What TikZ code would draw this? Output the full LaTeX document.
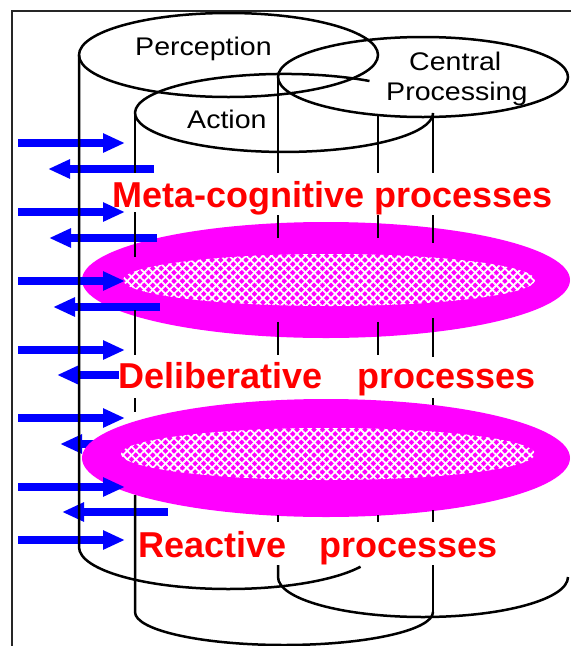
\documentclass[tikz,border=0pt]{standalone}
\usepackage{fontspec}
\setmainfont{Liberation Sans}
\usepackage{graphicx}
\usetikzlibrary{arrows.meta,patterns.meta}
\definecolor{mag}{RGB}{255,0,255}
\definecolor{fullblue}{RGB}{0,0,255}
\definecolor{fullred}{RGB}{255,0,0}
\begin{document}
\begin{tikzpicture}[x=1pt,y=-1pt,
  edge/.style={line width=2.5pt, black, line cap=butt},
  frameline/.style={line width=1.2pt, black!85},
  barrow/.style={line width=8pt, fullblue, -{Triangle[length=22pt 0 0,width=18pt 0 0]}},
  ringfill/.style={fill=mag},
  weave1/.style={pattern={Lines[angle=45,distance=6pt,line width=1.8pt]}, pattern color=white},
  weave2/.style={pattern={Lines[angle=-45,distance=6pt,line width=1.8pt]}, pattern color=white},
  lbl/.style={font=\fontsize{25.5}{28}\selectfont, anchor=base west, inner sep=0pt},
  redlbl/.style={text=fullred, font=\fontsize{36}{40}\selectfont\bfseries, anchor=base west, inner sep=0pt}
]
\useasboundingbox (0,0) rectangle (571,646);
% frame
\coordinate (fTL) at (12,11);
\coordinate (fTR) at (571,11);
\coordinate (fBL) at (12,646);
\draw[frameline] (fTR) -- (fTL) -- (fBL);

% arrow hidden under lower disc
\draw[barrow] (165,444) -- (60,444);

% magenta discs
\fill[ringfill] (326,280) ellipse [x radius=244, y radius=58];
\fill[weave1] (329,280) ellipse [x radius=206, y radius=26];
\fill[weave2] (329,280) ellipse [x radius=206, y radius=26];
\fill[ringfill] (326,458) ellipse [x radius=244, y radius=59];
\fill[weave1] (328,454) ellipse [x radius=207, y radius=26];
\fill[weave2] (328,454) ellipse [x radius=207, y radius=26];

% blue arrows
\foreach \y in {143,212,281,350,418,487,540}
  \draw[barrow] (18,\y) -- (125,\y);
\foreach \t/\h/\y in {154/48/169, 157/49/238, 160/53/307, 119/57/375, 168/62/512}
  \draw[barrow] (\t,\y) -- (\h,\y);

% cylinder tops
\draw[edge] (228.5,55) ellipse [x radius=149.5, y radius=42];
\draw[edge] (423,77) ellipse [x radius=145, y radius=40];
\draw[edge] (369.5,81) arc [start angle=305, end angle=0, x radius=149, y radius=39];

% vertical edges and bottom arcs
\draw[edge] (79,55) -- (79,547) arc [start angle=180, end angle=28, x radius=149.5, y radius=42];
\foreach \x/\a/\b in {135/113/173, 135/212/257, 135/310/355, 135/398/412,
                      278/77/173, 278/215/238, 278/322/355, 278/515/522,
                      378/115/173, 378/215/238, 378/322/355, 378/515/522,
                      433/113/173, 433/215/243, 433/318/357, 433/398/405, 433/510/522}
  \draw[edge] (\x,\a) -- (\x,\b);
\draw[edge] (135,495) -- (135,612) arc [start angle=180, end angle=0, x radius=149, y radius=33];
\draw[edge] (278,565) -- (278,577) arc [start angle=180, end angle=0, x radius=145, y radius=40];
\draw[edge] (433,565) -- (433,612);

% labels
\node[lbl] (perc) at (135,55) {\scalebox{1.12}[1]{Perception}};
\node[lbl] (cen) at (409,70) {\scalebox{1.12}[1]{Central}};
\node[lbl] (proc) at (386,100) {\scalebox{1.12}[1]{Processing}};
\node[lbl] (act) at (187,128) {\scalebox{1.12}[1]{Action}};

\node[redlbl] (meta) at (112,207) {Meta-cognitive processes};
\node[redlbl] (delib) at (118,388) {Deliberative};
\node[redlbl] (delibp) at (357,388) {processes};
\node[redlbl] (react) at (138,557) {Reactive};
\node[redlbl] (reactp) at (319,557) {processes};
\end{tikzpicture}
\end{document}
